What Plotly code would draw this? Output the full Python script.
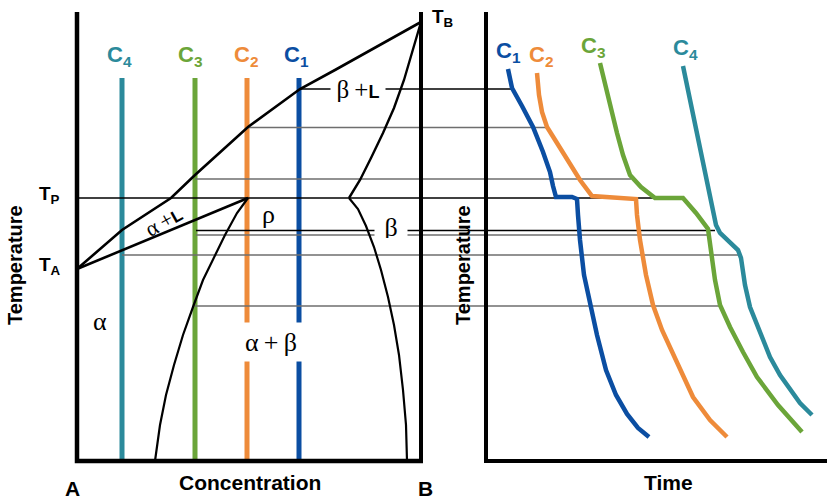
import plotly.graph_objects as go

# Canvas units: x = horizontal position, y = temperature position (downwards)
W, H = 827, 499

BLUE = "#0B4EA2"
ORANGE = "#EE8B3A"
GREEN = "#6BA539"
TEAL = "#2B8A9B"
GRAY = "#6e6e6e"

# ---- phase diagram boundaries ----
liquidus_x = [77, 122, 171, 195, 248, 300, 335, 380, 421]
liquidus_y = [269, 230, 198, 175, 127, 89, 70, 45, 22]

solidus_x = [77, 248]
solidus_y = [269, 198]

alpha_solvus_x = [248, 237, 225, 214, 203, 193, 183, 174, 166, 160, 157, 155]
alpha_solvus_y = [198, 213, 235, 258, 280, 307, 335, 365, 395, 425, 445, 461]

beta_liquidus_x = [421, 413, 404, 394, 383, 371, 360, 349]
beta_liquidus_y = [22, 50, 80, 108, 133, 158, 180, 198]

beta_solvus_x = [349, 358, 366, 374, 381, 388, 394, 399, 403, 406, 407]
beta_solvus_y = [198, 209, 226, 247, 270, 297, 325, 355, 390, 425, 461]

# ---- compositions ----
comp_names = ["C<sub>1</sub>", "C<sub>2</sub>", "C<sub>3</sub>", "C<sub>4</sub>"]
comp_colors = [BLUE, ORANGE, GREEN, TEAL]
comp_x = [299, 247, 195, 122]
comp_label_x = [296, 246, 190, 119]
comp_top, comp_bottom = 78, 461

# ---- cooling curves (time, temperature) ----
c1_t = [508, 512, 522, 533, 543, 550, 553, 556, 572, 577, 578, 580, 584, 590,
        597, 606, 616, 627, 638, 649]
c1_T = [69, 88, 106, 127, 152, 172, 186, 197, 197, 199, 215, 240, 275, 305,
        335, 370, 395, 414, 428, 437]
c2_t = [537, 539, 542, 547, 557, 567, 580, 592, 636, 637, 640, 646, 653, 662,
        670, 681, 693, 710, 727]
c2_T = [73, 95, 112, 127, 143, 160, 180, 196, 199, 215, 240, 275, 305, 330,
        347, 372, 397, 420, 437]
c3_t = [600, 604, 609, 617, 623, 630, 641, 655, 683, 696, 708, 711, 715, 720,
        730, 743, 757, 778, 802]
c3_T = [63, 80, 100, 133, 155, 175, 187, 198, 198, 213, 229, 252, 280, 305,
        327, 352, 377, 405, 432]
c4_t = [683, 690, 700, 708, 716, 720, 728, 738, 741, 745, 750, 760, 770, 780,
        790, 800, 812]
c4_T = [66, 100, 143, 185, 225, 233, 241, 250, 258, 285, 307, 333, 357, 375,
        390, 403, 415]
curve_label_t = [508, 541, 593, 685]
curve_label_T = [52, 56, 47, 49]

# ---- tie lines: (temperature, start, end, colour) ----
tie_T = [89, 127.5, 179, 198, 230.5, 235, 255, 306]
tie_start = [301, 248, 195, 77, 196, 196, 122, 195]
tie_end = [512, 546, 631, 683, 715, 708, 739, 720]
tie_color = ["black", GRAY, GRAY, "black", "black", GRAY, GRAY, GRAY]

fig = go.Figure()


def line(xs, ys, color, width):
    fig.add_trace(go.Scatter(x=xs, y=ys, mode="lines", hoverinfo="skip",
                             line=dict(color=color, width=width),
                             showlegend=False))


# composition verticals
for cx, col in zip(comp_x, comp_colors):
    line([cx, cx], [comp_top, comp_bottom], col, 5)

# tie lines
for T, x0, x1, col in zip(tie_T, tie_start, tie_end, tie_color):
    line([x0, x1], [T, T], col, 1.3 if col == "black" else 1.7)

# phase boundaries
line(liquidus_x, liquidus_y, "black", 2.6)
line(solidus_x, solidus_y, "black", 2.6)
line(alpha_solvus_x, alpha_solvus_y, "black", 2.2)
line(beta_liquidus_x, beta_liquidus_y, "black", 2.4)
line(beta_solvus_x, beta_solvus_y, "black", 2.2)

# frames
line([77, 77, 423], [12, 461, 461], "black", 4.5)
line([421, 421], [12, 461], "black", 4)
line([486, 486, 827], [12, 461, 461], "black", 4)

# cooling curves
for ts, Ts, col in [(c1_t, c1_T, BLUE), (c2_t, c2_T, ORANGE),
                    (c3_t, c3_T, GREEN), (c4_t, c4_T, TEAL)]:
    line(ts, Ts, col, 4.5)

SANS = "Liberation Sans"
SERIF = "Liberation Serif"
ann = []


def text(x, y, s, size, color="black", family=SANS, bold=True, angle=0,
         bg=None, w=None, h=None):
    d = dict(x=x, y=y, xref="x", yref="y", text=s, showarrow=False,
             textangle=angle, xanchor="center", yanchor="middle",
             font=dict(family=family, size=size, color=color,
                       weight="bold" if bold else "normal"))
    if bg:
        d.update(bgcolor=bg, borderpad=0)
    if w:
        d["width"] = w
    if h:
        d["height"] = h
    ann.append(d)


for name, col, lx in zip(comp_names, comp_colors, comp_label_x):
    text(lx, 56, name, 22, col)
for name, col, t, T in zip(comp_names, comp_colors, curve_label_t, curve_label_T):
    text(t, T, name, 22, col)

text(49, 195, "T<sub>P</sub>", 19)
text(50, 266, "T<sub>A</sub>", 19)
text(442, 18, "T<sub>B</sub>", 19)
text(72, 488, "A", 21)
text(425, 488, "B", 21)
text(250, 482, "Concentration", 21)
text(668, 482, "Time", 21)
text(15, 265, "Temperature", 20, angle=-90)
text(463, 265, "Temperature", 20, angle=-90)

L_BOLD = '<span style="font-family:Liberation Sans;font-weight:bold;font-size:%dpx">L</span>'
text(358, 89, "β\u2009+" + L_BOLD % 18, 25, family=SERIF, bold=False,
     bg="white", w=54, h=26)
text(391, 227, "β", 26, family=SERIF, bold=False, bg="white", w=32, h=22)
text(268, 214, "ρ", 26, family=SERIF, bold=False)
text(100, 321, "α", 26, family=SERIF, bold=False)
text(271, 342, "α\u2009+\u2009β", 26, family=SERIF, bold=False, bg="white",
     w=66, h=38)
text(163, 221, "α\u2009+" + L_BOLD % 17, 22, family=SERIF, bold=False,
     angle=-29)

fig.update_layout(
    width=W, height=H, margin=dict(l=0, r=0, t=0, b=0),
    plot_bgcolor="white", paper_bgcolor="white",
    xaxis=dict(range=[0, W], visible=False, fixedrange=True),
    yaxis=dict(range=[H, 0], visible=False, fixedrange=True),
    annotations=ann,
)
fig.write_html("out.html")
